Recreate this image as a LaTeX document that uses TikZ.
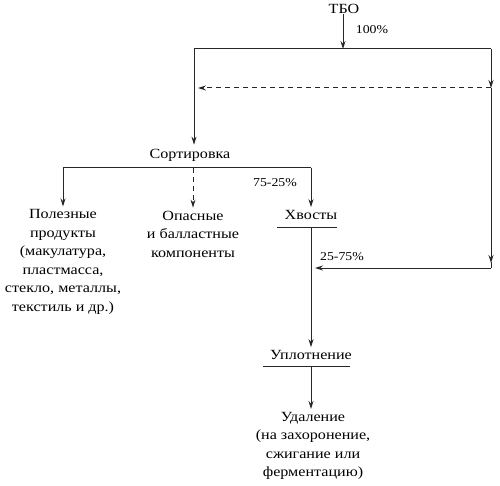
\documentclass[tikz,border=0pt]{standalone}
\usepackage{fontspec}
\setmainfont{Liberation Serif}[FakeStretch=1.15]
\usetikzlibrary{arrows.meta,calc}
\begin{document}
\begin{tikzpicture}[x=1pt,y=-1pt,
  line/.style={line width=1pt,draw=black!85},
  arr/.style={line,-{Stealth[length=8pt,width=5pt]}},
  dsh/.style={dash pattern=on 5pt off 4pt},
  lbl/.style={font=\fontsize{14}{18.5}\selectfont,align=center,inner sep=0pt},
  pct/.style={font=\fontsize{12}{14}\selectfont,inner sep=0pt}]
\useasboundingbox[fill=white] (0,0) rectangle (500,486);

% top
\node[lbl] (tbo) at (344,9) {ТБО};
\coordinate (tm) at (343,49);
\coordinate (tl) at (194,49);
\coordinate (tr) at (491,49);
\coordinate (dr) at (491,88);
\coordinate (dl) at (198,88);
\coordinate (br) at (491,268);
\coordinate (hv) at (315,268);
\node[pct] (p100) at (372,30) {100\%};

\node[lbl] (sort) at (190,155) {Сортировка};

\draw[arr] (tm |- tbo.south) -- (tm);
\draw[line] (tl) -- (tr);
\draw[arr] (tl) -- ($(tl |- sort.north)+(0,-4)$);
\draw[arr] (tr) -- (dr);
\draw[arr,dsh] (dr) -- (dl);
\draw[arr] (dr) -- ($(br)+(0,-5)$);
\draw[line] ($(br)+(0,-6)$) -- (br);
\draw[arr] (br) -- (hv);

% sorting branches
\coordinate (sl) at (63,168);
\coordinate (sm) at (193,168);
\coordinate (sr) at (311,168);
\node[lbl] (pol) at (63,262) {Полезные\\продукты\\(макулатура,\\пластмасса,\\стекло, металлы,\\текстиль и др.)};
\node[lbl] (opas) at (193,234) {Опасные\\и балластные\\компоненты};
\node[lbl] (xv) at (311,215) {Хвосты};
\node[pct] (p7525) at (275,183) {75-25\%};
\node[pct] (p2575) at (342,257) {25-75\%};

\draw[line] (sl) -- (sr);
\draw[arr] (sl) -- ($(sl |- pol.north)+(0,-3)$);
\draw[arr,dsh] (sm) -- ($(sm |- opas.north)+(0,-3)$);
\draw[arr] (sr) -- ($(sr |- xv.north)+(0,-3)$);

% tails
\coordinate (xul) at (277,228);
\coordinate (xur) at (337,228);
\coordinate (xm) at (311,228);
\draw[line] (xul) -- (xur);

\node[lbl] (upl) at (311,355) {Уплотнение};
\coordinate (uul) at (263,366);
\coordinate (uur) at (350,366);
\coordinate (um) at (311,366);
\draw[line] (uul) -- (uur);
\draw[arr] (xm) -- ($(xm |- upl.north)+(0,-3)$);

\node[lbl] (udal) at (313,446) {Удаление\\(на захоронение,\\сжигание или\\ферментацию)};
\draw[arr] (um) -- ($(um |- udal.north)+(0,-3)$);
\end{tikzpicture}
\end{document}
